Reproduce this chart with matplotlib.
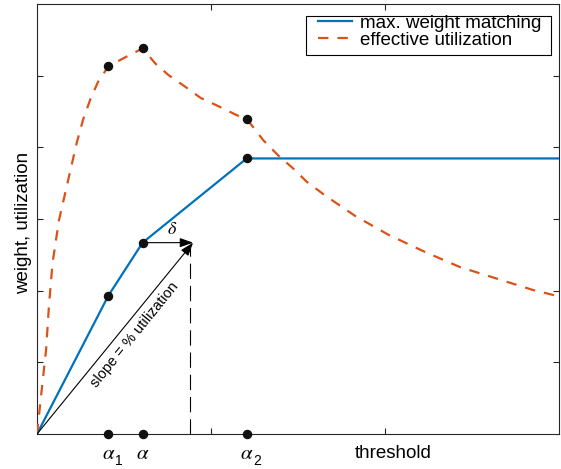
import matplotlib
matplotlib.use("Agg")
import matplotlib.pyplot as plt
from matplotlib.patches import FancyArrowPatch, Rectangle
import matplotlib.transforms as mtransforms

plt.rcParams['font.family'] = ['Liberation Sans', 'DejaVu Sans']
plt.rcParams['mathtext.fontset'] = 'stix'
plt.rcParams['lines.scale_dashes'] = False

# ---- data ----
alpha1, alpha, alpha2 = 0.41, 0.607, 1.205
match_x = [0, alpha1, alpha, alpha2, 3.0]
match_y = [0, 1.93, 2.67, 3.845, 3.845]

util_x = [0, 0.029, 0.052, 0.069, 0.089, 0.126, 0.228, 0.264, 0.305, 0.35, 0.41,
          0.51, 0.607, 0.68, 0.755, 0.855, 0.94, 1.046, 1.147, 1.205, 1.24, 1.30,
          1.385, 1.47, 1.55, 1.655, 1.83, 2.02, 2.23, 2.43, 2.64, 2.85, 3.0]
util_y = [0, 0.66, 1.17, 1.80, 2.38, 2.98, 4.06, 4.38, 4.66, 4.91, 5.13,
          5.26, 5.38, 5.17, 5.01, 4.84, 4.69, 4.57, 4.45, 4.39, 4.29, 4.10,
          3.89, 3.71, 3.52, 3.33, 3.04, 2.78, 2.54, 2.33, 2.17, 2.01, 1.92]

marker_x = [alpha1, alpha, alpha2]
match_marker_y = [1.93, 2.67, 3.845]
util_marker_y = [5.13, 5.38, 4.39]
arrow_tip_x = 0.897
dash_x = 0.882

tick_main = [r'$\alpha$', r'$\alpha$', r'$\alpha$']
tick_sub = ['1', '', '2']
legend_labels = ['max. weight matching', 'effective utilization']

blue = '#0072BD'
orange = '#D95319'
axcol = '#262626'

fig = plt.figure(figsize=(5.61, 4.69), dpi=100)
ax = fig.add_axes([37/561, 1 - 434/469, 522/561, 430/469])

ax.plot(match_x, match_y, color=blue, lw=1.6, label=legend_labels[0], zorder=3)
ax.plot(util_x, util_y, color=orange, lw=1.6, linestyle=(0, (7.5, 6.5)),
        label=legend_labels[1], zorder=3)

mk = dict(marker='o', ms=5.8, mfc='#111111', mec='#111111', ls='none', zorder=5,
          clip_on=False)
ax.plot(marker_x, match_marker_y, **mk)
ax.plot(marker_x, util_marker_y, **mk)
ax.plot(marker_x, [0, 0, 0], **mk)

# annotation arrows
tip_y = match_marker_y[1]
arr_kw = dict(arrowstyle='-|>,head_length=0.8,head_width=0.28', color='black',
              lw=0.8, mutation_scale=10, shrinkA=0, shrinkB=0, zorder=4)
ax.add_patch(FancyArrowPatch((0, 0), (arrow_tip_x, tip_y), **arr_kw))
ax.add_patch(FancyArrowPatch((alpha, tip_y), (arrow_tip_x, tip_y), **arr_kw))
ax.plot([dash_x, dash_x], [0, tip_y - 0.06], color='black', lw=0.8,
        linestyle=(0, (11, 5)), zorder=2)

ax.text(0.776, 2.85, r'$\delta$', fontsize=13, ha='center', va='center')
ax.text(0.563, 1.38, 'slope = % utilization', fontsize=10.5, rotation=51,
        rotation_mode='anchor', ha='center', va='center')

ax.set_xlim(0, 3)
ax.set_ylim(0, 6)
ax.set_xticks([1, 2])
ax.set_yticks([1, 2, 3, 4, 5])
ax.set_xticklabels([])
ax.set_yticklabels([])
ax.tick_params(direction='in', length=4, width=0.8, color=axcol,
               top=True, right=True)
for s in ax.spines.values():
    s.set_color(axcol)
    s.set_linewidth(0.8)

trans = mtransforms.blended_transform_factory(ax.transData, ax.transAxes)
for xv, lab, sub in zip(marker_x, tick_main, tick_sub):
    ax.text(xv, -0.045, lab, transform=trans, fontsize=15, ha='center', va='center')
    if sub:
        ax.annotate(sub, xy=(xv, -0.045), xycoords=trans, xytext=(5, -5.5),
                    textcoords='offset points', fontsize=10, ha='left',
                    va='center')
ax.text(2.045, -0.045, 'threshold', transform=trans, fontsize=13.5,
        ha='center', va='center')
ax.text(-0.026, 0.49, 'weight, utilization', transform=ax.transAxes, fontsize=13.5,
        rotation=90, ha='center', va='center')

# legend box drawn as a plain rectangle, entries without frame
ax.add_patch(Rectangle((0.5153, 0.8814), 0.4694, 0.0914, transform=ax.transAxes,
                       facecolor='white', edgecolor='black', lw=0.8, zorder=6))
leg = ax.legend(loc='upper left', bbox_to_anchor=(0.538, 0.975), borderaxespad=0,
                frameon=False, fontsize=13.5, handlelength=1.8,
                handletextpad=0.43, borderpad=0, labelspacing=0.0)
leg.set_zorder(7)

fig.savefig('out.png', dpi=100)
